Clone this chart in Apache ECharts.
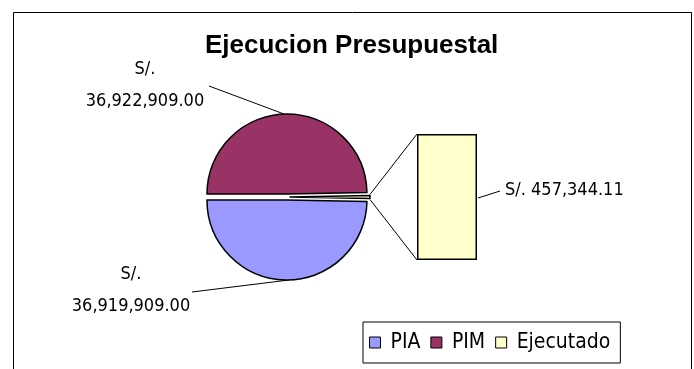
<!DOCTYPE html>
<html>
<head>
<meta charset="utf-8">
<script src="https://cdn.jsdelivr.net/npm/echarts@6/dist/echarts.min.js"></script>
<style>
  html, body { margin: 0; padding: 0; background: #fff; }
  #main { width: 694px; height: 369px; }
</style>
</head>
<body>
<div id="main"></div>
<script>
// datos del grafico
var categorias = ['PIA', 'PIM', 'Ejecutado'];
var montos = [36919909.00, 36922909.00, 457344.11];
var colores = ['#9999FF', '#993366', '#FFFFCC'];

// geometria (pie + barra)
var CX = 287, CY = 197, R = 80, OFF = 3;
var GRID = { left: 417, top: 134, width: 60, height: 126 };
var FUENTE = "'DejaVu Sans Condensed', 'Liberation Sans Narrow', 'Arial Narrow', sans-serif";

function soles(v) {
    return v.toLocaleString('en-US', { minimumFractionDigits: 2, maximumFractionDigits: 2 });
}

var total = montos.reduce(function (a, b) { return a + b; }, 0);
var medio = 180 * montos[2] / total; // medio angulo de la porcion "Ejecutado"
var orden = [2, 0, 1]; // Ejecutado primero, queda a la derecha

// angulo medio de cada porcion (grados, sentido horario desde startAngle)
var angMedio = {};
(function () {
    var a = medio;
    orden.forEach(function (i) {
        var paso = 360 * montos[i] / total;
        angMedio[i] = a - paso / 2;
        a -= paso;
    });
})();

// una serie pie por porcion, para separar cada una (explosion)
function seriePie(k) {
    var ang = angMedio[k] * Math.PI / 180;
    return {
        type: 'pie',
        center: [CX + OFF * Math.cos(ang), CY - OFF * Math.sin(ang)],
        radius: R,
        startAngle: medio,
        clockwise: true,
        silent: true,
        avoidLabelOverlap: false,
        emphasis: { disabled: true },
        label: {
            formatter: function (p) { return 'S/.\n' + soles(p.value); },
            fontFamily: FUENTE, fontSize: 18, color: '#000',
            lineHeight: 32, align: 'center'
        },
        labelLine: { lineStyle: { color: '#000', width: 1 } },
        labelLayout: function (p) {
            if (p.dataIndex === 2 && k === 1) { // PIM
                return { x: 145, y: 85, align: 'center', verticalAlign: 'middle',
                    labelLinePoints: [[CX - 3, CY - OFF - R], [209, 86], [209, 86]] };
            }
            if (p.dataIndex === 1 && k === 0) { // PIA
                return { x: 131, y: 290, align: 'center', verticalAlign: 'middle',
                    labelLinePoints: [[CX + 2, CY + OFF + R], [192, 292], [192, 292]] };
            }
        },
        data: orden.map(function (i) {
            var mio = (i === k);
            return {
                name: categorias[i],
                value: montos[i],
                itemStyle: mio ? { color: colores[i], borderColor: '#000', borderWidth: 1.5 }
                               : { color: 'none', borderWidth: 0 },
                label: { show: mio && i !== 2 },
                labelLine: { show: mio && i !== 2 }
            };
        })
    };
}

var myChart = echarts.init(document.getElementById('main'));

var option = {
    animation: false,
    title: {
        text: 'Ejecucion Presupuestal',
        left: 200, top: 28,
        textStyle: { fontFamily: "'Liberation Sans', Arial, sans-serif", fontSize: 26, fontWeight: 'bold', color: '#000' }
    },
    legend: {
        data: categorias.map(function (c, i) {
            return { name: c, itemStyle: { color: colores[i], borderColor: '#000', borderWidth: 1 } };
        }),
        left: 363, top: 322,
        padding: [10, 10, 10, 6],
        itemGap: 10,
        itemWidth: 11, itemHeight: 11,
        icon: 'rect',
        borderColor: '#000', borderWidth: 1,
        textStyle: { fontFamily: FUENTE, fontSize: 21, color: '#000', padding: [0, 0, 0, 5] },
        selectedMode: false
    },
    grid: GRID,
    xAxis: { type: 'category', data: ['Ejecutado'], show: false },
    yAxis: { type: 'value', min: 0, max: montos[2], show: false },
    series: [
        seriePie(0),
        seriePie(1),
        seriePie(2),
        {
            type: 'bar',
            name: 'barra',
            barWidth: '100%',
            data: [montos[2]],
            silent: true,
            itemStyle: { color: colores[2], borderColor: '#000', borderWidth: 1.5 },
            emphasis: { disabled: true },
            label: {
                show: true, position: 'right', distance: 28, offset: [0, -7],
                formatter: function (p) { return 'S/. ' + soles(p.value); },
                fontFamily: FUENTE, fontSize: 18, color: '#000'
            }
        }
    ]
};
myChart.setOption(option);

// lineas que unen la porcion con la barra, guia de la etiqueta y marco
var arriba = myChart.convertToPixel({ gridIndex: 0 }, [0, montos[2]]);
var abajo = myChart.convertToPixel({ gridIndex: 0 }, [0, 0]);
var rad = medio * Math.PI / 180;
var px = CX + OFF + R * Math.cos(rad);
var bx = GRID.left + GRID.width + 1, by = (arriba[1] + abajo[1]) / 2 + 1;
myChart.setOption({
    graphic: [
        {
            type: 'rect', silent: true, z: -1,
            shape: { x: 13.5, y: 12.5, width: 678, height: 400 },
            style: { fill: 'none', stroke: '#000', lineWidth: 1 }
        },
        {
            type: 'line', silent: true,
            shape: { x1: px, y1: CY - R * Math.sin(rad) - 1, x2: GRID.left, y2: arriba[1] },
            style: { stroke: '#000', lineWidth: 1 }
        },
        {
            type: 'line', silent: true,
            shape: { x1: px, y1: CY + R * Math.sin(rad) + 1, x2: GRID.left, y2: abajo[1] },
            style: { stroke: '#000', lineWidth: 1 }
        },
        {
            type: 'line', silent: true,
            shape: { x1: bx, y1: by, x2: bx + 22, y2: by - 7 },
            style: { stroke: '#000', lineWidth: 1 }
        }
    ]
});
</script>
</body>
</html>
